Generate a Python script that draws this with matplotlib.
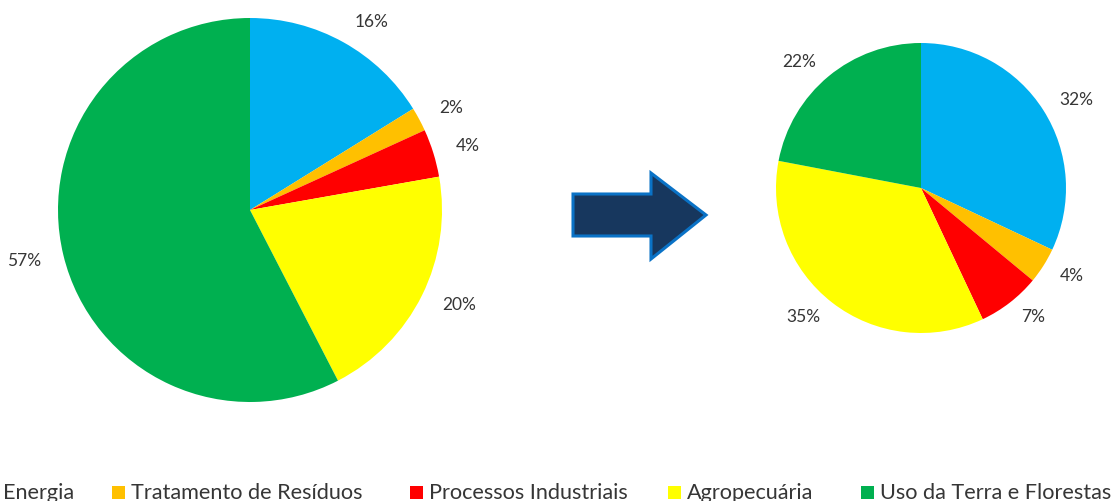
import math
import matplotlib
matplotlib.use("Agg")
import matplotlib.pyplot as plt
from matplotlib.patches import Polygon, Rectangle

categories = ["Energia", "Tratamento de Resíduos", "Processos Industriais",
              "Agropecuária", "Uso da Terra e Florestas"]
colors = ["#00B0F0", "#FFC000", "#FF0000", "#FFFF00", "#00B050"]
before_pct = [16, 2, 4, 20, 57]
after_pct = [32, 4, 7, 35, 22]

W, H = 1119, 501
fig = plt.figure(figsize=(W / 100, H / 100), dpi=100)
fig.patch.set_facecolor("white")
text_color = "#363636"
font = ["Lato", "DejaVu Sans"]


def px_axes(left, top, width, height):
    return fig.add_axes([left / W, 1 - (top + height) / H, width / W, height / H])


def draw_pie(ax, values, label_dist):
    wedges, _ = ax.pie(values, colors=colors, startangle=90, counterclock=False,
                       radius=1.0, wedgeprops=dict(linewidth=0))
    for w, v in zip(wedges, values):
        ang = math.radians((w.theta1 + w.theta2) / 2)
        x, y = label_dist * math.cos(ang), label_dist * math.sin(ang)
        ax.text(x, y, f"{v}%", ha="left" if x >= 0 else "right", va="center",
                fontsize=12.5, color=text_color, family=font)
    ax.set_xlim(-1, 1)
    ax.set_ylim(-1, 1)
    ax.set_aspect("equal")
    ax.axis("off")


ax1 = px_axes(58, 18, 384, 384)
draw_pie(ax1, before_pct, 1.12)

ax2 = px_axes(776, 43, 290, 290)
draw_pie(ax2, after_pct, 1.13)

# overlay in pixel coordinates for the arrow and legend
ov = fig.add_axes([0, 0, 1, 1])
ov.set_xlim(0, W)
ov.set_ylim(H, 0)
ov.axis("off")

arrow = Polygon([(573, 194), (651, 194), (651, 173), (706, 215),
                 (651, 259), (651, 236), (573, 236)],
                closed=True, facecolor="#17375E", edgecolor="#0A72C6",
                linewidth=2.2, joinstyle="miter")
ov.add_patch(arrow)

legend_x = [3, 131, 429, 687, 880]
baseline = 499
for x, name, c in zip(legend_x, categories, colors):
    ov.add_patch(Rectangle((x - 19, baseline - 13), 13, 13, facecolor=c,
                           edgecolor="none"))
    ov.text(x, baseline, name, ha="left", va="baseline", fontsize=15.6,
            color=text_color, family=font)

fig.savefig("out.png", dpi=100, facecolor="white")
